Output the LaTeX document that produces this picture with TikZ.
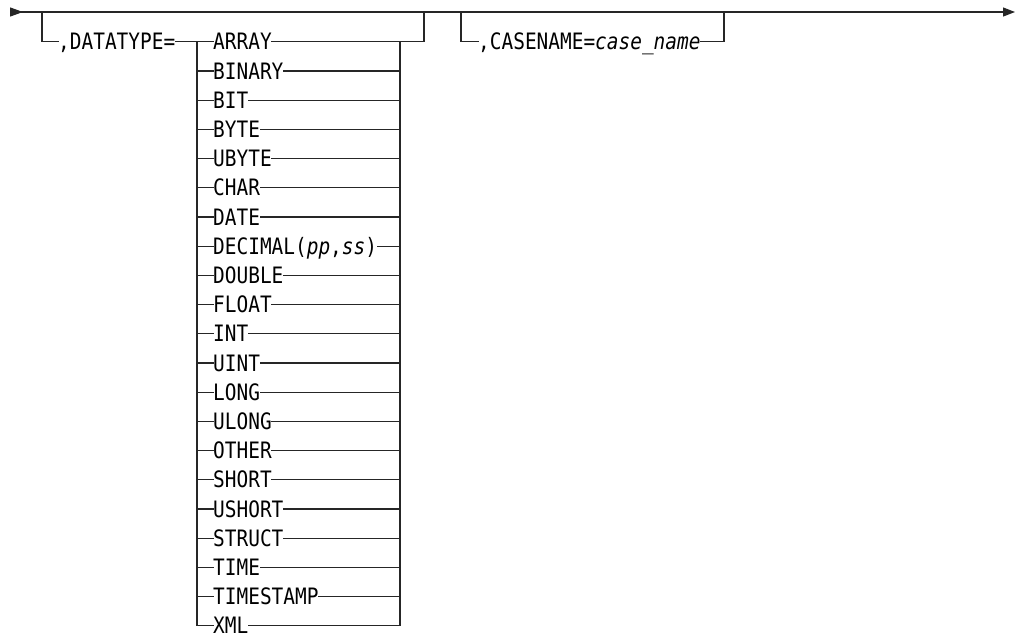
\documentclass[tikz,border=0pt]{standalone}
\usepackage{fontspec}
\newfontfamily\railfont[FakeStretch=0.86]{DejaVu Sans Mono}
\usetikzlibrary{arrows.meta}

\begin{document}
\begin{tikzpicture}[
    x=1pt, y=-1pt,
    rail/.style={draw=black!85, line width=1.2pt, line cap=rect},
    word/.style={anchor=west, inner sep=0pt, text height=16.4pt, text depth=0pt, font=\railfont\fontsize{22.6}{26}\selectfont},
    ends/.style={{Triangle[reversed, length=13pt, width=9pt]}-{Triangle[length=12pt, width=9pt]}},
  ]
  \useasboundingbox (0,0) rectangle (1017,635);

  % main line
  \coordinate (in) at (10,12);
  \coordinate (out) at (1015,12);
  \draw[rail, ends, line cap=butt] (in) -- (out);

  % DATATYPE branch
  \coordinate (b1in) at (42,12);
  \coordinate (b1c) at (42,41.7);
  \node[word] (dt) at (58,41.7) {,DATATYPE=};
  \foreach \name [count=\i from 0] in {ARRAY, BINARY, BIT, BYTE, UBYTE, CHAR, DATE,
      {DECIMAL(\textit{pp},\textit{ss})}, DOUBLE, FLOAT, INT, UINT, LONG, ULONG,
      OTHER, SHORT, USHORT, STRUCT, TIME, TIMESTAMP, XML} {
    \coordinate (l\i) at (197,{41.7+29.2*\i});
    \node[word] (c\i) at (213,{41.7+29.2*\i}) {\name};
    \coordinate (r\i) at (400,{41.7+29.2*\i});
    \draw[rail] (l\i) -- (c\i.west) (c\i.east) -- (r\i);
  }
  \coordinate (b1out) at (424,41.7);
  \coordinate (b1top) at (424,12);
  \draw[rail] (b1in) -- (b1c) -- (dt.west);
  \draw[rail] (dt.east) -- (l0);
  \draw[rail] (l0) -- (l20);
  \draw[rail] (r0) -- (r20);
  \draw[rail] (r0) -- (b1out) -- (b1top);

  % CASENAME branch
  \coordinate (b2in) at (461,12);
  \coordinate (b2c) at (461,41.7);
  \node[word] (cn) at (478,41.7) {,CASENAME=\textit{case\_name}};
  \coordinate (b2out) at (724,41.7);
  \coordinate (b2top) at (724,12);
  \draw[rail] (b2in) -- (b2c) -- (cn.west);
  \draw[rail] (cn.east) -- (b2out) -- (b2top);
\end{tikzpicture}
\end{document}
